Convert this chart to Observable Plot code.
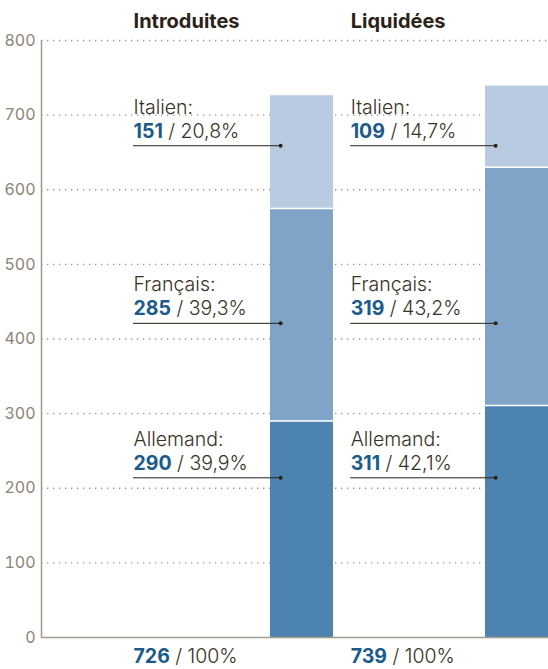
<!DOCTYPE html>
<html><head><meta charset="utf-8">
<script src="https://cdn.jsdelivr.net/npm/d3@7"></script>
<script src="https://cdn.jsdelivr.net/npm/@observablehq/plot@0.6"></script>
<style>body{margin:0;background:#fff}</style>
</head><body><div id="chart"></div>
<script>
// ---- data ----
const panels = ["Introduites", "Liquidées"];
const languages = ["Allemand", "Français", "Italien"];
const introduites = [290, 285, 151];
const liquidees = [311, 319, 109];
const pctIntroduites = ["39,9%", "39,3%", "20,8%"];
const pctLiquidees = ["42,1%", "43,2%", "14,7%"];
const totals = [726, 739];
const totalPct = ["100%", "100%"];
const yTicks = [0, 100, 200, 300, 400, 500, 600, 700, 800];

// ---- layout constants ----
const colors = ["#4c83b1", "#80a4c8", "#b9cbe1"];
const labelAnchor = [214, 421, 659];      // label leader heights (value units)
const xDomain = [-0.428, 1.930];
const barStart = 0.637, barEnd = 0.930, dotX = 0.684;
const FONT = "Inter, 'Liberation Sans', Arial, sans-serif";
const TEXT = "#3a3126", BLUE = "#1a5b8c", GREY = "#8c8374";

const series = [introduites, liquidees];
const pcts = [pctIntroduites, pctLiquidees];
const rows = [];
series.forEach((vals, p) => {
  const cum = d3.cumsum(vals);
  vals.forEach((v, k) => rows.push({
    p, lang: languages[k], k, value: v, y1: cum[k] - v, y2: cum[k],
    pct: pcts[p][k], anchor: labelAnchor[k], top: k === vals.length - 1
  }));
});
const lx = p => p + (p ? 0.01 : 0);

const chart = Plot.plot({
  width: 548, height: 669,
  marginLeft: 41, marginRight: 0, marginTop: 40, marginBottom: 32,
  style: {fontFamily: FONT, background: "#fff"},
  x: {domain: xDomain, axis: null},
  y: {domain: [0, 800], axis: null},
  marks: [
    Plot.ruleY(yTicks.filter(d => d > 0), {stroke: "#9c9282", strokeWidth: 1.3, strokeDasharray: "1.3,4.7"}),
    Plot.rect(rows, {x1: d => d.p + barStart, x2: d => d.p + barEnd, y1: "y1", y2: "y2",
      fill: d => colors[d.k]}),
    Plot.ruleY(rows.filter(d => !d.top), {x1: d => d.p + barStart, x2: d => d.p + barEnd, y: "y2",
      stroke: "white", strokeWidth: 1.5}),
    Plot.ruleX([xDomain[0]], {y1: 0, y2: 800, stroke: "#9f9787", strokeWidth: 1.5}),
    Plot.ruleY([0], {stroke: "#a39b8c", strokeWidth: 1.5}),
    Plot.axisY({ticks: yTicks, tickSize: 0, tickPadding: 6, fontSize: 16, fill: GREY, label: null, tickFormat: d => String(d)}),
    // panel titles
    Plot.text(panels, {x: (d, i) => lx(i), y: 800, text: d => d, dy: -13, lineAnchor: "bottom",
      textAnchor: "start", fontSize: 20, fontWeight: "bold", fill: "#2b2218"}),
    // labels
    Plot.text(rows, {x: d => lx(d.p), y: "anchor", text: d => d.lang + ":", dy: -32, lineAnchor: "bottom",
      textAnchor: "start", fontSize: 19.5, fontWeight: 300, fill: TEXT}),
    Plot.text(rows, {x: d => lx(d.p), y: "anchor", text: d => d.value + "| / " + d.pct, dy: -8, lineAnchor: "bottom",
      textAnchor: "start", fontSize: 19.5, fontWeight: 300, fill: TEXT}),
    Plot.ruleY(rows, {x1: d => lx(d.p), x2: d => d.p + dotX, y: "anchor", stroke: "#2a2118", strokeWidth: 1}),
    Plot.dot(rows, {x: d => d.p + dotX, y: "anchor", r: 2, fill: "#2a2118"}),
    // totals
    Plot.text(totals, {x: (d, i) => lx(i), y: 0, text: (d, i) => d + "| / " + totalPct[i], dy: 25, lineAnchor: "bottom",
      textAnchor: "start", fontSize: 19.5, fontWeight: 300, fill: TEXT})
  ]
});

// split "value| / pct" into bold blue value + regular rest
chart.querySelectorAll("text").forEach(t => {
  const s = t.textContent;
  if (!s.includes("|")) return;
  const [a, b] = s.split("|");
  t.textContent = "";
  const ns = "http://www.w3.org/2000/svg";
  const s1 = document.createElementNS(ns, "tspan");
  s1.setAttribute("font-weight", "bold"); s1.setAttribute("fill", BLUE); s1.textContent = a;
  const s2 = document.createElementNS(ns, "tspan");
  s2.textContent = b.replace(/^ /, "\u00a0");
  t.append(s1, s2);
});
document.getElementById("chart").append(chart);
</script>
</body></html>
